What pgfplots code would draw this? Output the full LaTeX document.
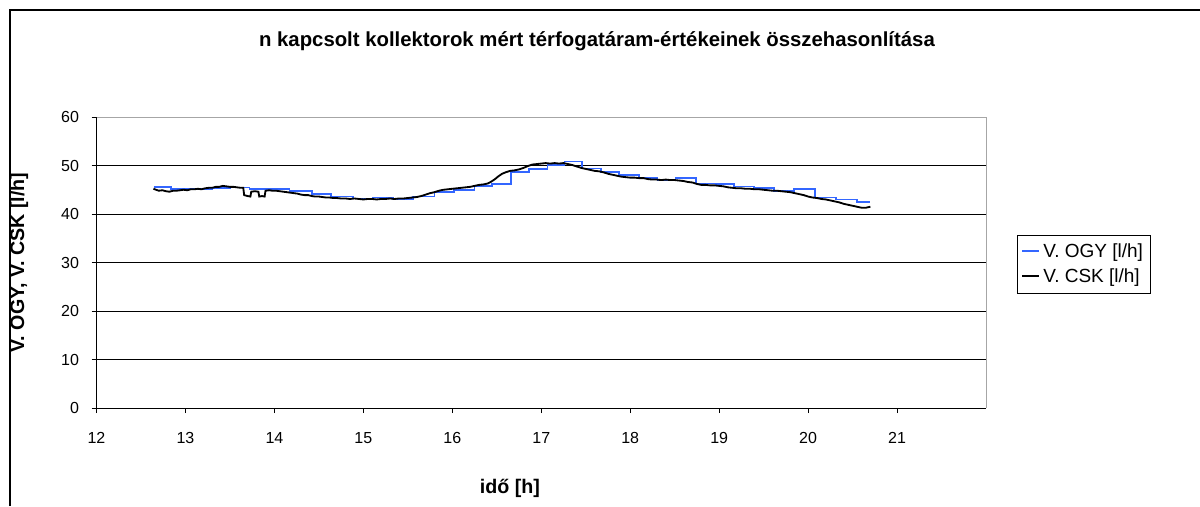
\documentclass[border=0pt]{standalone}
\usepackage{fontspec}
\setmainfont{Liberation Sans}
\usepackage{pgfplots}
\pgfplotsset{compat=1.18}
\definecolor{ogy}{RGB}{51,102,255}
\begin{document}
\begin{tikzpicture}
\path[use as bounding box] (0pt,0pt) rectangle (720pt,303.6pt);
\draw[black, line width=0.7pt] (6pt,0pt) -- (6pt,297.6pt) -- (720pt,297.6pt);
\node[font=\fontsize{12.2}{14}\selectfont\bfseries] at (358.2pt,279pt) {n kapcsolt kollektorok mért térfogatáram-értékeinek összehasonlítása};
\node[font=\fontsize{11.8}{14}\selectfont\bfseries] at (306pt,10.8pt) {idő [h]};
\node[font=\fontsize{11.8}{14}\selectfont\bfseries, rotate=90] at (11.4pt,146.1pt) {V. OGY, V. CSK [l/h]};
\begin{axis}[
  at={(57.9pt,58.8pt)}, anchor=south west,
  scale only axis, width=533.7pt, height=174.6pt,
  xmin=12, xmax=22, ymin=0, ymax=60,
  xtick={12,13,...,21}, ytick={0,10,...,60},
  axis x line*=bottom, axis y line*=left,
  axis line style={black, line width=0.6pt, -},
  tick align=outside, major tick length=3pt,
  tick style={black, line width=0.5pt},
  ymajorgrids, major grid style={black, line width=0.6pt},
  tick label style={font=\fontsize{9.6}{11}\selectfont},
  /pgf/number format/assume math mode=true,
  xticklabel style={yshift=-8pt},
  yticklabel style={xshift=-4pt},
  legend style={at={(1.035,0.5945)}, anchor=north west, draw=black,
    font=\fontsize{11.4}{13}\selectfont, inner xsep=2.5pt, inner ysep=3pt, row sep=1pt},
  legend cell align=left,
  legend image code/.code={\draw[line width=1pt, #1] (0pt,0.3pt) -- (10pt,0.3pt);},
  clip=false,
]
\draw[gray!70, line width=0.6pt] (rel axis cs:0,1) -- (rel axis cs:1,1) -- (rel axis cs:1,0);
\addlegendimage{ogy}
\addlegendentry{V. OGY [l/h]}
\addlegendimage{black, line width=1.4pt}
\addlegendentry{V. CSK [l/h]}
\addplot[const plot mark left, color=ogy, line width=1pt, mark=none, forget plot] coordinates {
(12.645,45.6) (12.84,45.2) (13.30,45.3) (13.50,45.5) (13.72,45.2) (14.17,44.7)
(14.42,44.1) (14.64,43.6) (14.88,43.2) (15.11,43.4) (15.33,43.05) (15.56,43.6)
(15.80,44.6) (16.02,45.0) (16.25,45.8) (16.45,46.2) (16.66,48.6) (16.865,49.3)
(17.07,50.1) (17.26,50.8) (17.46,49.4) (17.67,48.6) (17.875,48.1) (18.10,47.4)
(18.305,47.0) (18.51,47.4) (18.74,46.3) (18.96,46.2) (19.17,45.65) (19.39,45.3)
(19.615,44.75) (19.84,45.2) (20.08,43.4) (20.31,43.0) (20.55,42.5) (20.70,42.5)
};
\addplot[black, line width=1.1pt, mark=none, forget plot] coordinates {
(12.64,45.2) (12.67,45.0) (12.70,44.8) (12.74,44.9) (12.78,44.7) (12.82,44.6)
(12.86,44.8) (12.90,44.8) (12.94,44.9) (12.98,45.0) (13.02,44.9) (13.06,45.1)
(13.10,45.1) (13.14,45.2) (13.18,45.1) (13.22,45.3) (13.26,45.4) (13.30,45.4)
(13.34,45.6) (13.38,45.6) (13.42,45.8) (13.46,45.7) (13.50,45.6) (13.54,45.6)
(13.58,45.5) (13.62,45.4) (13.65,45.4) (13.66,43.9) (13.70,43.7) (13.73,43.6)
(13.74,44.6) (13.78,44.7) (13.82,44.6) (13.83,43.6) (13.86,43.7) (13.89,43.6)
(13.90,44.8) (13.94,44.9) (13.98,44.8) (14.02,44.8) (14.06,44.7) (14.10,44.6)
(14.14,44.5) (14.18,44.4) (14.22,44.3) (14.26,44.2) (14.30,44.0) (14.34,43.9)
(14.38,43.9) (14.42,43.7) (14.46,43.6) (14.50,43.6) (14.54,43.5) (14.58,43.4)
(14.62,43.4) (14.66,43.3) (14.70,43.3) (14.75,43.2) (14.80,43.2) (14.85,43.1)
(14.90,43.2) (14.95,43.1) (15.00,43.0) (15.05,43.1) (15.10,43.1) (15.15,43.0)
(15.20,43.1) (15.25,43.1) (15.30,43.2) (15.35,43.1) (15.40,43.2) (15.45,43.2)
(15.50,43.3) (15.55,43.4) (15.60,43.5) (15.65,43.7) (15.70,44.0) (15.75,44.3)
(15.80,44.5) (15.85,44.8) (15.90,45.0) (15.95,45.1) (16.00,45.2) (16.05,45.3)
(16.10,45.4) (16.15,45.5) (16.20,45.6) (16.25,45.8) (16.30,46.0) (16.35,46.1)
(16.40,46.3) (16.44,46.7) (16.48,47.2) (16.52,47.8) (16.56,48.3) (16.60,48.6)
(16.65,48.9) (16.70,49.0) (16.75,49.2) (16.80,49.5) (16.85,49.9) (16.90,50.2)
(16.95,50.3) (17.00,50.4) (17.05,50.5) (17.10,50.4) (17.15,50.5) (17.20,50.4)
(17.25,50.5) (17.30,50.3) (17.35,50.1) (17.40,49.8) (17.45,49.5) (17.50,49.3)
(17.55,49.1) (17.60,48.9) (17.65,48.8) (17.70,48.6) (17.75,48.3) (17.80,48.1)
(17.85,47.9) (17.90,47.7) (17.95,47.6) (18.00,47.5) (18.05,47.5) (18.10,47.4)
(18.15,47.4) (18.20,47.2) (18.25,47.1) (18.30,47.1) (18.35,47.0) (18.40,47.1)
(18.45,47.0) (18.50,47.0) (18.55,46.9) (18.60,46.8) (18.65,46.6) (18.70,46.5)
(18.75,46.2) (18.80,46.0) (18.85,46.0) (18.90,45.9) (18.95,45.9) (19.00,45.8)
(19.05,45.7) (19.10,45.5) (19.15,45.4) (19.20,45.3) (19.25,45.3) (19.30,45.2)
(19.35,45.2) (19.40,45.1) (19.45,45.1) (19.50,45.0) (19.55,44.9) (19.60,44.8)
(19.65,44.8) (19.70,44.7) (19.75,44.6) (19.80,44.5) (19.85,44.3) (19.90,44.1)
(19.95,43.9) (20.00,43.6) (20.05,43.4) (20.10,43.3) (20.15,43.1) (20.20,43.0)
(20.25,42.8) (20.30,42.6) (20.35,42.4) (20.40,42.1) (20.45,41.9) (20.50,41.7)
(20.55,41.5) (20.60,41.3) (20.65,41.3) (20.70,41.5)
};
\end{axis}
\end{tikzpicture}
\end{document}
